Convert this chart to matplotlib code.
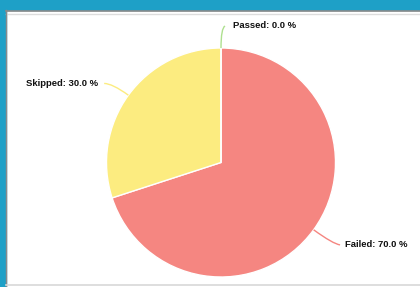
import numpy as np
import matplotlib
matplotlib.use("Agg")
import matplotlib.pyplot as plt
from matplotlib.path import Path
from matplotlib.patches import PathPatch, Rectangle

categories = ["Failed", "Skipped", "Passed"]
values = [70.0, 30.0, 0.0]
colors = ["#f58681", "#fcec80", "#aee08f"]

W, H = 420, 287
fig = plt.figure(figsize=(W / 100, H / 100), dpi=100)
fig.patch.set_facecolor("white")
ax = fig.add_axes([0, 0, 1, 1])
ax.set_xlim(0, W)
ax.set_ylim(0, H)
ax.set_aspect("equal")
ax.axis("off")

# frame
ax.add_patch(Rectangle((0, H - 10), W, 10, color="#1ea0c7", zorder=0))
ax.add_patch(Rectangle((0, 0), 5.5, H, color="#1ea0c7", zorder=0))
ax.plot([5.5, W], [H - 10.5, H - 10.5], color="#8a8a8a", lw=1.2, zorder=1)
ax.plot([5.5, W], [H - 14, H - 14], color="#dddddd", lw=1.0, zorder=1)
ax.plot([5.5, 5.5], [0, H - 10], color="#8a8a8a", lw=1.0, zorder=1)
ax.plot([5.5, W], [2.5, 2.5], color="#d8d8d8", lw=1.2, zorder=1)

cx, cy, r = 221, H - 162.5, 114.5
wedges, _ = ax.pie(values, colors=colors, startangle=90, counterclock=False,
                   center=(cx, cy), radius=r,
                   wedgeprops=dict(edgecolor="white", linewidth=1.0))
ax.set_xlim(0, W)
ax.set_ylim(0, H)
ax.axis("off")

total = sum(values)
start = 90.0
for cat, val, col in zip(categories, values, colors):
    span = 360.0 * val / total
    mid = np.deg2rad(start - span / 2)
    start -= span
    d = np.array([np.cos(mid), np.sin(mid)])
    edge = np.array([cx, cy]) + r * d
    right = d[0] >= -1e-9
    if abs(d[0]) < 1e-6:
        elbow = np.array([cx, cy]) + (r + 20) * d
        end = elbow + np.array([4, 2])
        gap = 8
    else:
        dist = 20 if d[1] > 0 else 24
        elbow = np.array([cx, cy]) + (r + dist) * d
        end = elbow + np.array([7 if right else -8, -1 if d[1] < 0 else 0])
        gap = 5 if right else 6
    path = Path([edge, elbow, end], [Path.MOVETO, Path.CURVE3, Path.CURVE3])
    ax.add_patch(PathPatch(path, facecolor="none", edgecolor=col, lw=1.0, zorder=3))
    tx = end[0] + (gap if right else -gap)
    ax.text(tx, end[1], f"{cat}: {val:.1f} %", ha="left" if right else "right",
            va="center", fontsize=6.8, fontweight="bold", family="Liberation Sans",
            color="#111111", zorder=4)

fig.savefig("out.png", dpi=100)
